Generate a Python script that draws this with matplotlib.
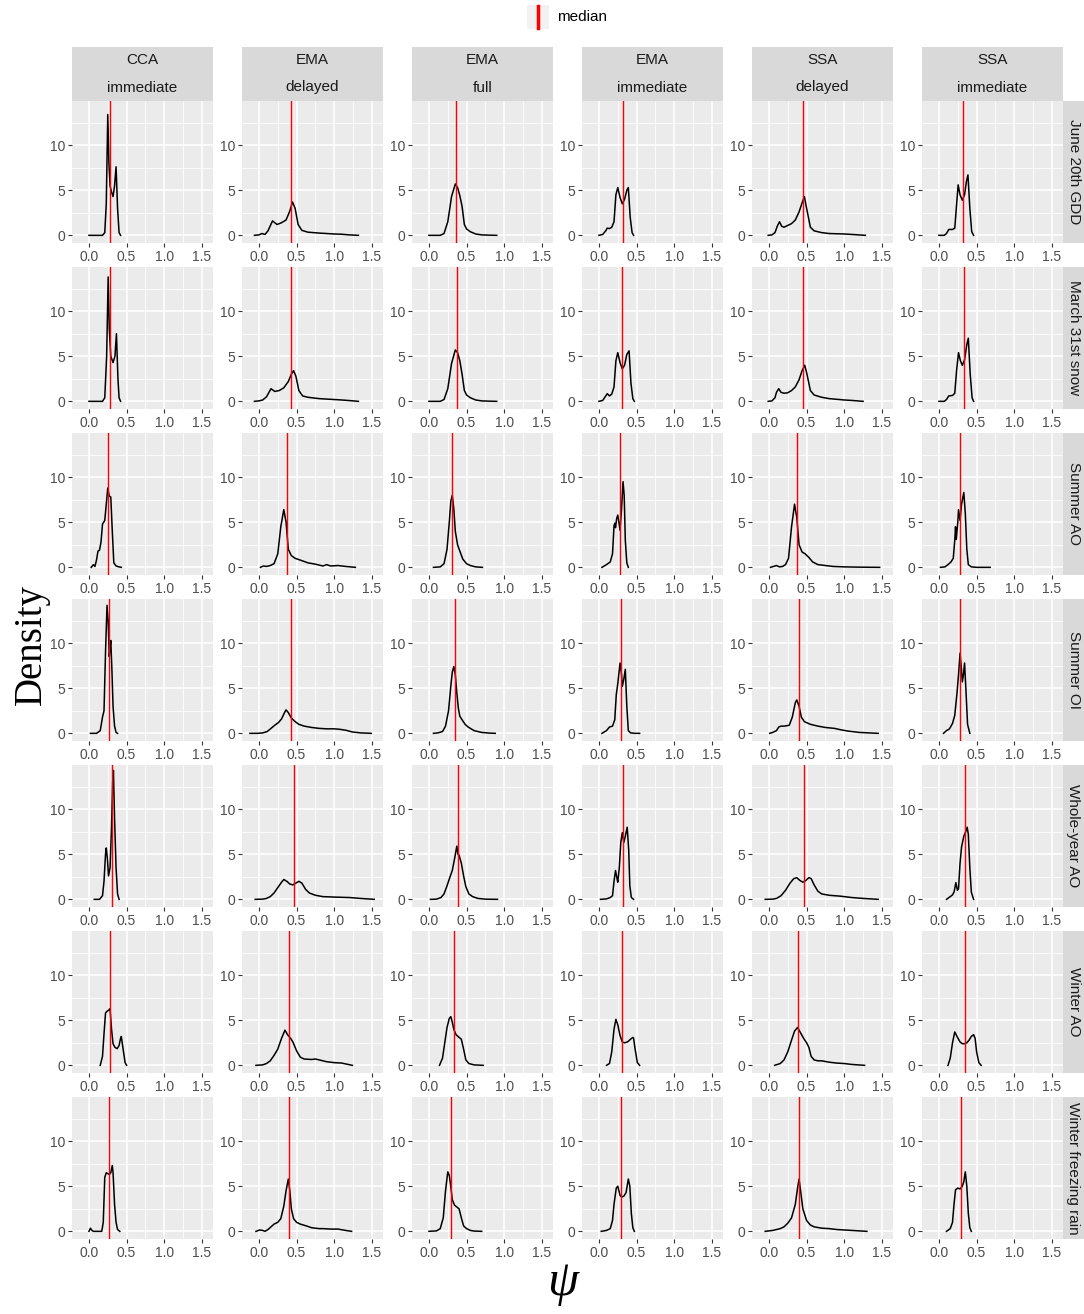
import matplotlib
matplotlib.use("Agg")
import matplotlib.pyplot as plt
from matplotlib.lines import Line2D
from matplotlib.patches import Rectangle

plt.rcParams['font.family'] = ['Liberation Sans', 'DejaVu Sans']

# facet labels
methods = ['CCA', 'EMA', 'EMA', 'EMA', 'SSA', 'SSA']
timing = ['immediate', 'delayed', 'full', 'immediate', 'delayed', 'immediate']
rows = ['June 20th GDD', 'March 31st snow', 'Summer AO', 'Summer OI',
        'Whole-year AO', 'Winter AO', 'Winter freezing rain']

# median of psi per panel (row x column)
medians = [
    [0.28, 0.42, 0.36, 0.32, 0.45, 0.32],
    [0.28, 0.43, 0.37, 0.31, 0.45, 0.33],
    [0.25, 0.37, 0.31, 0.275, 0.37, 0.28],
    [0.27, 0.42, 0.34, 0.29, 0.40, 0.28],
    [0.31, 0.47, 0.38, 0.32, 0.47, 0.34],
    [0.28, 0.40, 0.33, 0.31, 0.39, 0.35],
    [0.27, 0.40, 0.29, 0.29, 0.40, 0.29],
]

# density curves, one (x, y) pair per panel
june_gdd = [
    ([0.0, 0.18, 0.21, 0.23, 0.25, 0.265, 0.28, 0.30, 0.32, 0.34, 0.36, 0.38, 0.40, 0.42],
     [0, 0, 0.3, 3.5, 13.4, 8, 5.5, 4.8, 4.3, 5.5, 7.6, 3, 0.3, 0]),
    ([-0.06, 0.0, 0.04, 0.08, 0.12, 0.18, 0.24, 0.30, 0.36, 0.41, 0.445, 0.48, 0.52, 0.57, 0.65, 0.8, 1.0, 1.1, 1.2, 1.32],
     [0, 0.05, 0.2, 0.1, 0.5, 1.6, 1.2, 1.4, 1.7, 2.7, 3.7, 3.0, 1.2, 0.55, 0.35, 0.25, 0.15, 0.12, 0.05, 0]),
    ([0.0, 0.15, 0.2, 0.25, 0.3, 0.35, 0.38, 0.41, 0.44, 0.47, 0.5, 0.55, 0.62, 0.7, 0.8, 0.9],
     [0, 0, 0.2, 1.5, 4.3, 5.7, 5.3, 4.4, 3.2, 1.2, 0.7, 0.4, 0.15, 0.05, 0.02, 0]),
    ([0.0, 0.05, 0.09, 0.11, 0.14, 0.17, 0.20, 0.225, 0.25, 0.28, 0.31, 0.34, 0.37, 0.39, 0.415, 0.44, 0.46],
     [0, 0.1, 0.5, 0.8, 0.75, 0.9, 1.5, 4.5, 5.3, 4.2, 3.5, 4.0, 5.0, 5.3, 2.0, 0.3, 0]),
    ([-0.01, 0.04, 0.08, 0.11, 0.14, 0.17, 0.2, 0.25, 0.3, 0.35, 0.4, 0.44, 0.47, 0.5, 0.55, 0.6, 0.7, 0.8, 1.0, 1.1, 1.28],
     [0, 0.05, 0.3, 1.0, 1.5, 1.0, 0.9, 1.1, 1.3, 1.7, 2.6, 3.6, 4.3, 3.0, 0.9, 0.5, 0.3, 0.2, 0.15, 0.1, 0]),
    ([0.0, 0.07, 0.10, 0.13, 0.18, 0.21, 0.235, 0.255, 0.28, 0.31, 0.34, 0.365, 0.385, 0.41, 0.435, 0.46],
     [0, 0, 0.2, 0.65, 0.65, 0.8, 3.5, 5.6, 4.5, 3.9, 4.5, 6.0, 6.7, 3.0, 0.4, 0]),
]
march_snow = [
    ([0.0, 0.18, 0.21, 0.235, 0.255, 0.27, 0.29, 0.32, 0.345, 0.365, 0.385, 0.40, 0.42],
     [0, 0, 0.4, 5, 13.8, 8, 5, 4.3, 5, 7.5, 2.5, 0.4, 0]),
    ([-0.06, 0.0, 0.05, 0.1, 0.16, 0.21, 0.27, 0.33, 0.39, 0.43, 0.46, 0.49, 0.53, 0.58, 0.65, 0.8, 1.0, 1.15, 1.32],
     [0, 0.05, 0.15, 0.5, 1.4, 1.1, 1.2, 1.5, 2.2, 3.0, 3.4, 2.8, 1.2, 0.6, 0.45, 0.3, 0.2, 0.12, 0]),
    ([0.0, 0.15, 0.2, 0.25, 0.3, 0.35, 0.38, 0.41, 0.44, 0.47, 0.5, 0.55, 0.62, 0.7, 0.8, 0.9],
     [0, 0, 0.2, 1.4, 4.2, 5.7, 5.4, 4.5, 3.0, 1.2, 0.7, 0.4, 0.15, 0.05, 0.02, 0]),
    ([0.0, 0.05, 0.09, 0.11, 0.14, 0.17, 0.20, 0.225, 0.25, 0.28, 0.31, 0.34, 0.37, 0.40, 0.425, 0.45, 0.47],
     [0, 0.1, 0.6, 0.85, 0.6, 0.8, 1.6, 4.5, 5.4, 4.3, 3.6, 4.0, 5.2, 5.6, 2.0, 0.3, 0]),
    ([-0.01, 0.04, 0.08, 0.10, 0.13, 0.16, 0.2, 0.25, 0.3, 0.35, 0.4, 0.44, 0.475, 0.5, 0.55, 0.6, 0.7, 0.8, 1.0, 1.1, 1.25],
     [0, 0.05, 0.4, 1.0, 1.4, 1.0, 0.9, 0.95, 1.2, 1.6, 2.4, 3.4, 4.0, 3.2, 1.2, 0.7, 0.45, 0.3, 0.15, 0.1, 0]),
    ([0.0, 0.07, 0.10, 0.13, 0.18, 0.21, 0.235, 0.26, 0.285, 0.31, 0.34, 0.37, 0.39, 0.415, 0.44, 0.46],
     [0, 0, 0.2, 0.6, 0.65, 0.9, 3.5, 5.4, 4.5, 4.0, 4.6, 6.3, 7.0, 3.0, 0.4, 0]),
]
summer_ao = [
    ([0.03, 0.06, 0.08, 0.10, 0.12, 0.14, 0.16, 0.18, 0.21, 0.23, 0.25, 0.27, 0.29, 0.31, 0.33, 0.36, 0.40, 0.43],
     [0, 0.3, 0.1, 0.8, 1.8, 1.9, 2.8, 4.8, 5.2, 7.0, 8.8, 7.9, 7.8, 4.0, 0.5, 0.15, 0.05, 0]),
    ([0.02, 0.06, 0.1, 0.15, 0.2, 0.25, 0.29, 0.33, 0.36, 0.39, 0.43, 0.48, 0.55, 0.65, 0.75, 0.85, 0.9, 0.95, 1.05, 1.15, 1.28],
     [0, 0.15, 0.1, 0.2, 0.4, 1.5, 4.5, 6.4, 5.0, 2.0, 1.3, 1.0, 0.8, 0.5, 0.35, 0.15, 0.3, 0.15, 0.2, 0.1, 0]),
    ([0.06, 0.15, 0.2, 0.24, 0.27, 0.29, 0.31, 0.33, 0.35, 0.38, 0.41, 0.45, 0.5, 0.55, 0.62, 0.71],
     [0, 0.05, 0.4, 2.0, 5.0, 7.3, 8.0, 6.5, 4.0, 2.5, 1.8, 0.9, 0.4, 0.2, 0.05, 0]),
    ([0.04, 0.1, 0.15, 0.18, 0.2, 0.21, 0.22, 0.235, 0.25, 0.265, 0.28, 0.30, 0.32, 0.335, 0.35, 0.37, 0.39],
     [0, 0.3, 0.6, 1.5, 4.6, 4.9, 4.4, 5.4, 5.8, 5.0, 4.1, 6.5, 9.5, 8.0, 3.0, 0.5, 0]),
    ([0.02, 0.06, 0.1, 0.14, 0.18, 0.22, 0.26, 0.3, 0.34, 0.37, 0.40, 0.44, 0.48, 0.53, 0.58, 0.65, 0.75, 0.85, 1.0, 1.2, 1.47],
     [0, 0.1, 0.2, 0.05, 0.1, 0.3, 1.0, 4.5, 7.0, 5.5, 2.5, 1.7, 1.5, 1.1, 0.6, 0.3, 0.2, 0.1, 0.05, 0.02, 0]),
    ([0.02, 0.08, 0.12, 0.16, 0.19, 0.21, 0.22, 0.23, 0.25, 0.26, 0.28, 0.30, 0.33, 0.35, 0.37, 0.39, 0.43, 0.5, 0.6, 0.68],
     [0, 0.05, 0.3, 0.6, 1.0, 3.0, 4.5, 3.1, 5.0, 6.4, 5.2, 7.0, 8.3, 6.0, 2.0, 0.3, 0.05, 0, 0, 0]),
]
summer_oi = [
    ([0.02, 0.10, 0.15, 0.18, 0.20, 0.22, 0.24, 0.255, 0.27, 0.28, 0.29, 0.305, 0.32, 0.34, 0.36, 0.38],
     [0, 0, 0.3, 1.8, 2.5, 9, 14.2, 12.5, 8.5, 9.5, 10.3, 7.0, 3.0, 0.8, 0.1, 0]),
    ([-0.12, -0.02, 0.05, 0.11, 0.16, 0.21, 0.26, 0.3, 0.34, 0.36, 0.39, 0.43, 0.48, 0.53, 0.6, 0.7, 0.8, 0.9, 1.0, 1.07, 1.15, 1.24, 1.35, 1.49],
     [0, 0, 0.05, 0.2, 0.55, 0.9, 1.2, 1.6, 2.3, 2.6, 2.3, 1.7, 1.3, 1.0, 0.8, 0.65, 0.55, 0.5, 0.5, 0.45, 0.35, 0.15, 0.05, 0]),
    ([0.06, 0.12, 0.18, 0.22, 0.26, 0.29, 0.31, 0.33, 0.35, 0.37, 0.39, 0.41, 0.44, 0.48, 0.52, 0.6, 0.7, 0.8, 0.88],
     [0, 0.05, 0.2, 0.8, 2.5, 5.2, 6.8, 7.4, 6.5, 4.5, 2.8, 1.9, 1.5, 1.0, 0.7, 0.3, 0.1, 0.03, 0]),
    ([0.04, 0.1, 0.14, 0.18, 0.21, 0.23, 0.25, 0.28, 0.30, 0.31, 0.33, 0.35, 0.37, 0.39, 0.42, 0.48, 0.54],
     [0, 0.3, 0.7, 0.8, 1.5, 4.3, 5.5, 7.8, 6.5, 5.2, 6.0, 7.1, 3.0, 0.3, 0.05, 0, 0]),
    ([0.01, 0.05, 0.1, 0.13, 0.16, 0.2, 0.24, 0.27, 0.31, 0.35, 0.37, 0.40, 0.43, 0.47, 0.55, 0.65, 0.75, 0.87, 0.95, 1.05, 1.2, 1.45],
     [0, 0.1, 0.3, 0.7, 0.8, 0.8, 0.85, 0.9, 1.8, 3.4, 3.7, 3.0, 1.8, 1.3, 1.0, 0.8, 0.65, 0.55, 0.4, 0.25, 0.1, 0]),
    ([0.06, 0.1, 0.14, 0.18, 0.21, 0.24, 0.26, 0.28, 0.30, 0.31, 0.325, 0.34, 0.36, 0.38, 0.41],
     [0, 0.3, 0.5, 1.1, 2.0, 4.5, 6.5, 8.9, 7.0, 5.7, 6.5, 7.8, 4.5, 1.0, 0]),
]
whole_year_ao = [
    ([0.07, 0.14, 0.18, 0.20, 0.22, 0.23, 0.245, 0.26, 0.28, 0.30, 0.315, 0.325, 0.34, 0.36, 0.38, 0.40],
     [0, 0, 0.4, 2.0, 5.0, 5.7, 4.5, 2.6, 3.5, 8.0, 13.0, 14.3, 9.0, 3.5, 0.6, 0]),
    ([-0.05, 0.05, 0.1, 0.15, 0.2, 0.25, 0.3, 0.33, 0.37, 0.41, 0.45, 0.49, 0.53, 0.57, 0.62, 0.67, 0.75, 0.85, 1.0, 1.2, 1.35, 1.53],
     [0, 0.02, 0.1, 0.3, 0.7, 1.3, 1.9, 2.2, 2.0, 1.7, 1.6, 1.8, 2.0, 1.8, 1.1, 0.7, 0.45, 0.3, 0.25, 0.2, 0.1, 0]),
    ([0.02, 0.1, 0.16, 0.2, 0.24, 0.28, 0.31, 0.34, 0.37, 0.385, 0.40, 0.43, 0.46, 0.49, 0.53, 0.58, 0.65, 0.75, 0.91],
     [0, 0.02, 0.2, 0.6, 1.5, 2.5, 3.2, 4.5, 5.9, 5.0, 4.9, 4.0, 2.6, 1.4, 0.6, 0.3, 0.1, 0.02, 0]),
    ([0.02, 0.1, 0.15, 0.18, 0.20, 0.22, 0.24, 0.25, 0.27, 0.29, 0.31, 0.33, 0.35, 0.375, 0.395, 0.41, 0.43, 0.46],
     [0, 0.05, 0.2, 0.4, 2.0, 3.2, 2.3, 1.9, 3.5, 6.3, 7.4, 6.3, 7.0, 8.0, 5.5, 1.5, 0.2, 0]),
    ([-0.05, 0.05, 0.1, 0.16, 0.22, 0.28, 0.33, 0.37, 0.41, 0.45, 0.49, 0.53, 0.56, 0.6, 0.65, 0.7, 0.8, 0.95, 1.1, 1.25, 1.45],
     [0, 0.02, 0.1, 0.4, 1.0, 1.8, 2.3, 2.4, 2.1, 1.9, 2.1, 2.4, 2.3, 1.6, 0.9, 0.6, 0.45, 0.35, 0.2, 0.1, 0]),
    ([0.10, 0.15, 0.18, 0.20, 0.225, 0.245, 0.26, 0.28, 0.30, 0.33, 0.36, 0.375, 0.39, 0.41, 0.43, 0.46],
     [0, 0.3, 0.5, 0.8, 1.85, 1.0, 1.2, 4.0, 5.8, 7.0, 7.6, 8.0, 7.2, 3.5, 0.8, 0]),
]
winter_ao = [
    ([0.15, 0.18, 0.20, 0.22, 0.24, 0.26, 0.28, 0.30, 0.32, 0.345, 0.375, 0.40, 0.42, 0.43, 0.45, 0.48, 0.50],
     [0, 1.0, 3.5, 5.8, 6.0, 6.1, 6.3, 4.0, 2.4, 2.0, 1.85, 2.2, 3.0, 3.2, 2.0, 0.3, 0]),
    ([-0.04, 0.05, 0.1, 0.15, 0.2, 0.25, 0.3, 0.345, 0.38, 0.42, 0.45, 0.5, 0.55, 0.6, 0.7, 0.75, 0.8, 0.9, 1.0, 1.1, 1.24],
     [0, 0.05, 0.2, 0.5, 1.1, 1.8, 3.0, 3.9, 3.4, 3.0, 2.6, 1.6, 0.9, 0.7, 0.65, 0.7, 0.6, 0.4, 0.3, 0.25, 0]),
    ([0.14, 0.18, 0.21, 0.24, 0.27, 0.29, 0.31, 0.33, 0.36, 0.40, 0.43, 0.46, 0.49, 0.53, 0.6, 0.72],
     [0, 0.8, 2.5, 4.2, 5.2, 5.4, 4.8, 4.0, 3.4, 3.1, 2.9, 1.8, 0.6, 0.2, 0.05, 0]),
    ([0.10, 0.14, 0.17, 0.20, 0.225, 0.25, 0.28, 0.31, 0.34, 0.38, 0.42, 0.45, 0.46, 0.48, 0.51, 0.54],
     [0, 0.2, 1.5, 4.0, 5.1, 4.5, 3.3, 2.6, 2.5, 2.6, 2.9, 3.1, 3.0, 1.8, 0.3, 0]),
    ([0.075, 0.15, 0.2, 0.25, 0.3, 0.34, 0.38, 0.42, 0.46, 0.50, 0.53, 0.56, 0.6, 0.65, 0.7, 0.8, 0.9, 1.0, 1.1, 1.27],
     [0, 0.2, 0.6, 1.5, 2.8, 3.8, 4.2, 3.6, 3.0, 2.5, 2.0, 1.0, 0.6, 0.5, 0.5, 0.35, 0.25, 0.2, 0.1, 0]),
    ([0.12, 0.15, 0.18, 0.21, 0.24, 0.28, 0.31, 0.34, 0.37, 0.40, 0.43, 0.46, 0.48, 0.50, 0.53, 0.56],
     [0, 0.8, 2.5, 3.7, 3.2, 2.6, 2.4, 2.4, 2.5, 2.8, 3.2, 3.4, 3.0, 1.5, 0.3, 0]),
]
winter_rain = [
    ([0.0, 0.02, 0.04, 0.06, 0.17, 0.19, 0.21, 0.23, 0.25, 0.27, 0.29, 0.31, 0.32, 0.34, 0.36, 0.38, 0.41],
     [0, 0.35, 0.1, 0, 0, 1.0, 6.0, 6.5, 6.4, 6.3, 6.5, 7.3, 6.5, 3.0, 1.0, 0.2, 0]),
    ([-0.04, 0.01, 0.05, 0.08, 0.12, 0.16, 0.2, 0.25, 0.29, 0.33, 0.36, 0.39, 0.41, 0.43, 0.46, 0.5, 0.55, 0.63, 0.7, 0.8, 0.85, 0.95, 1.05, 1.15, 1.23],
     [0, 0.15, 0.1, 0, 0.2, 0.5, 0.8, 1.0, 1.4, 2.8, 4.5, 5.8, 4.5, 2.5, 1.4, 1.0, 0.8, 0.6, 0.4, 0.3, 0.3, 0.25, 0.25, 0.1, 0]),
    ([0.0, 0.1, 0.15, 0.19, 0.22, 0.25, 0.27, 0.29, 0.31, 0.34, 0.37, 0.40, 0.43, 0.46, 0.5, 0.55, 0.6, 0.7],
     [0, 0.05, 0.3, 1.5, 4.5, 6.6, 6.2, 5.0, 3.5, 2.9, 2.7, 2.5, 1.5, 0.6, 0.3, 0.1, 0.03, 0]),
    ([0.03, 0.1, 0.15, 0.18, 0.2, 0.23, 0.25, 0.28, 0.30, 0.33, 0.36, 0.39, 0.41, 0.43, 0.45, 0.47],
     [0, 0.1, 0.3, 1.2, 3.0, 4.8, 5.0, 4.0, 3.8, 3.9, 4.3, 5.8, 5.0, 2.0, 0.4, 0]),
    ([-0.05, 0.05, 0.1, 0.15, 0.2, 0.25, 0.3, 0.35, 0.38, 0.40, 0.42, 0.45, 0.5, 0.55, 0.6, 0.7, 0.8, 0.9, 1.0, 1.1, 1.3],
     [0, 0.1, 0.2, 0.3, 0.5, 0.9, 1.5, 3.0, 4.8, 5.8, 4.5, 2.5, 1.2, 0.7, 0.5, 0.35, 0.3, 0.2, 0.15, 0.1, 0]),
    ([0.1, 0.15, 0.18, 0.2, 0.22, 0.25, 0.28, 0.31, 0.33, 0.35, 0.37, 0.39, 0.41, 0.43],
     [0, 0.3, 1.0, 3.0, 4.6, 4.8, 4.7, 5.0, 5.5, 6.6, 5.0, 2.0, 0.4, 0]),
]
curves = [june_gdd, march_snow, summer_ao, summer_oi, whole_year_ao, winter_ao, winter_rain]

W, H = 1084, 1314
fig = plt.figure(figsize=(W / 100, H / 100), dpi=100)

PANEL_BG = '#EBEBEB'
STRIP_BG = '#D9D9D9'
TXT = '#4D4D4D'

def box(x, y, w, h):
    # pixel box (top-left origin) -> figure fraction
    return [x / W, 1 - (y + h) / H, w / W, h / H]

for r in range(7):
    for c in range(6):
        left = 72 + 170 * c
        top = 101 + 166 * r
        ax = fig.add_axes(box(left, top, 141, 142))
        ax.set_facecolor(PANEL_BG)
        ax.set_xlim(-0.225, 1.647)
        ax.set_ylim(-0.85, 14.9)
        ax.set_xticks([0.0, 0.5, 1.0, 1.5])
        ax.set_xticklabels(['0.0', '0.5', '1.0', '1.5'])
        ax.set_yticks([0, 5, 10])
        ax.set_xticks([0.25, 0.75, 1.25], minor=True)
        ax.set_yticks([2.5, 7.5, 12.5], minor=True)
        ax.grid(which='major', color='white', linewidth=1.1)
        ax.grid(which='minor', color='white', linewidth=0.55)
        ax.set_axisbelow(True)
        for s in ax.spines.values():
            s.set_visible(False)
        ax.tick_params(which='major', length=3, width=0.8, color='#333333',
                       labelsize=10, labelcolor=TXT, pad=2)
        ax.tick_params(which='minor', length=0)

        xs, ys = curves[r][c]
        ax.plot(xs, ys, color='black', linewidth=1.1, zorder=3,
                solid_joinstyle='round')
        ax.axvline(medians[r][c], color='red', linewidth=1.0, zorder=4)

        if r == 0:
            st = fig.add_axes(box(left, 47, 141, 54))
            st.set_facecolor(STRIP_BG)
            st.set_xticks([]); st.set_yticks([])
            for s in st.spines.values():
                s.set_visible(False)
            st.text(0.5, 0.75, methods[c], ha='center', va='center',
                    fontsize=11, color='#1A1A1A', transform=st.transAxes)
            st.text(0.5, 0.25, timing[c], ha='center', va='center',
                    fontsize=11, color='#1A1A1A', transform=st.transAxes)

    rs = fig.add_axes(box(1063, 101 + 166 * r, 21, 142))
    rs.set_facecolor(STRIP_BG)
    rs.set_xticks([]); rs.set_yticks([])
    for s in rs.spines.values():
        s.set_visible(False)
    rs.text(0.5, 0.5, rows[r], ha='center', va='center', rotation=-90,
            fontsize=11, color='#1A1A1A', transform=rs.transAxes)

# axis titles
fig.text(31 / W, 1 - 645 / H, 'Density', rotation=90, ha='center', va='center',
         fontsize=28, family=['Liberation Serif', 'DejaVu Serif'])
fig.text(563 / W, 1 - 1283 / H, 'ψ', ha='center', va='center',
         fontsize=36, style='italic', family=['Liberation Serif', 'DejaVu Serif'])

# legend
fig.patches.append(Rectangle((527 / W, 1 - 29 / H), 22 / W, 24 / H,
                             transform=fig.transFigure, facecolor='#F2F2F2',
                             edgecolor='none'))
fig.lines.append(Line2D([538 / W, 538 / W], [1 - 28 / H, 1 - 6 / H],
                        transform=fig.transFigure, color='red', linewidth=2.5))
fig.text(557 / W, 1 - 17 / H, 'median', ha='left', va='center',
         fontsize=11, color='black')

fig.savefig('out.png', dpi=100, facecolor='white')
